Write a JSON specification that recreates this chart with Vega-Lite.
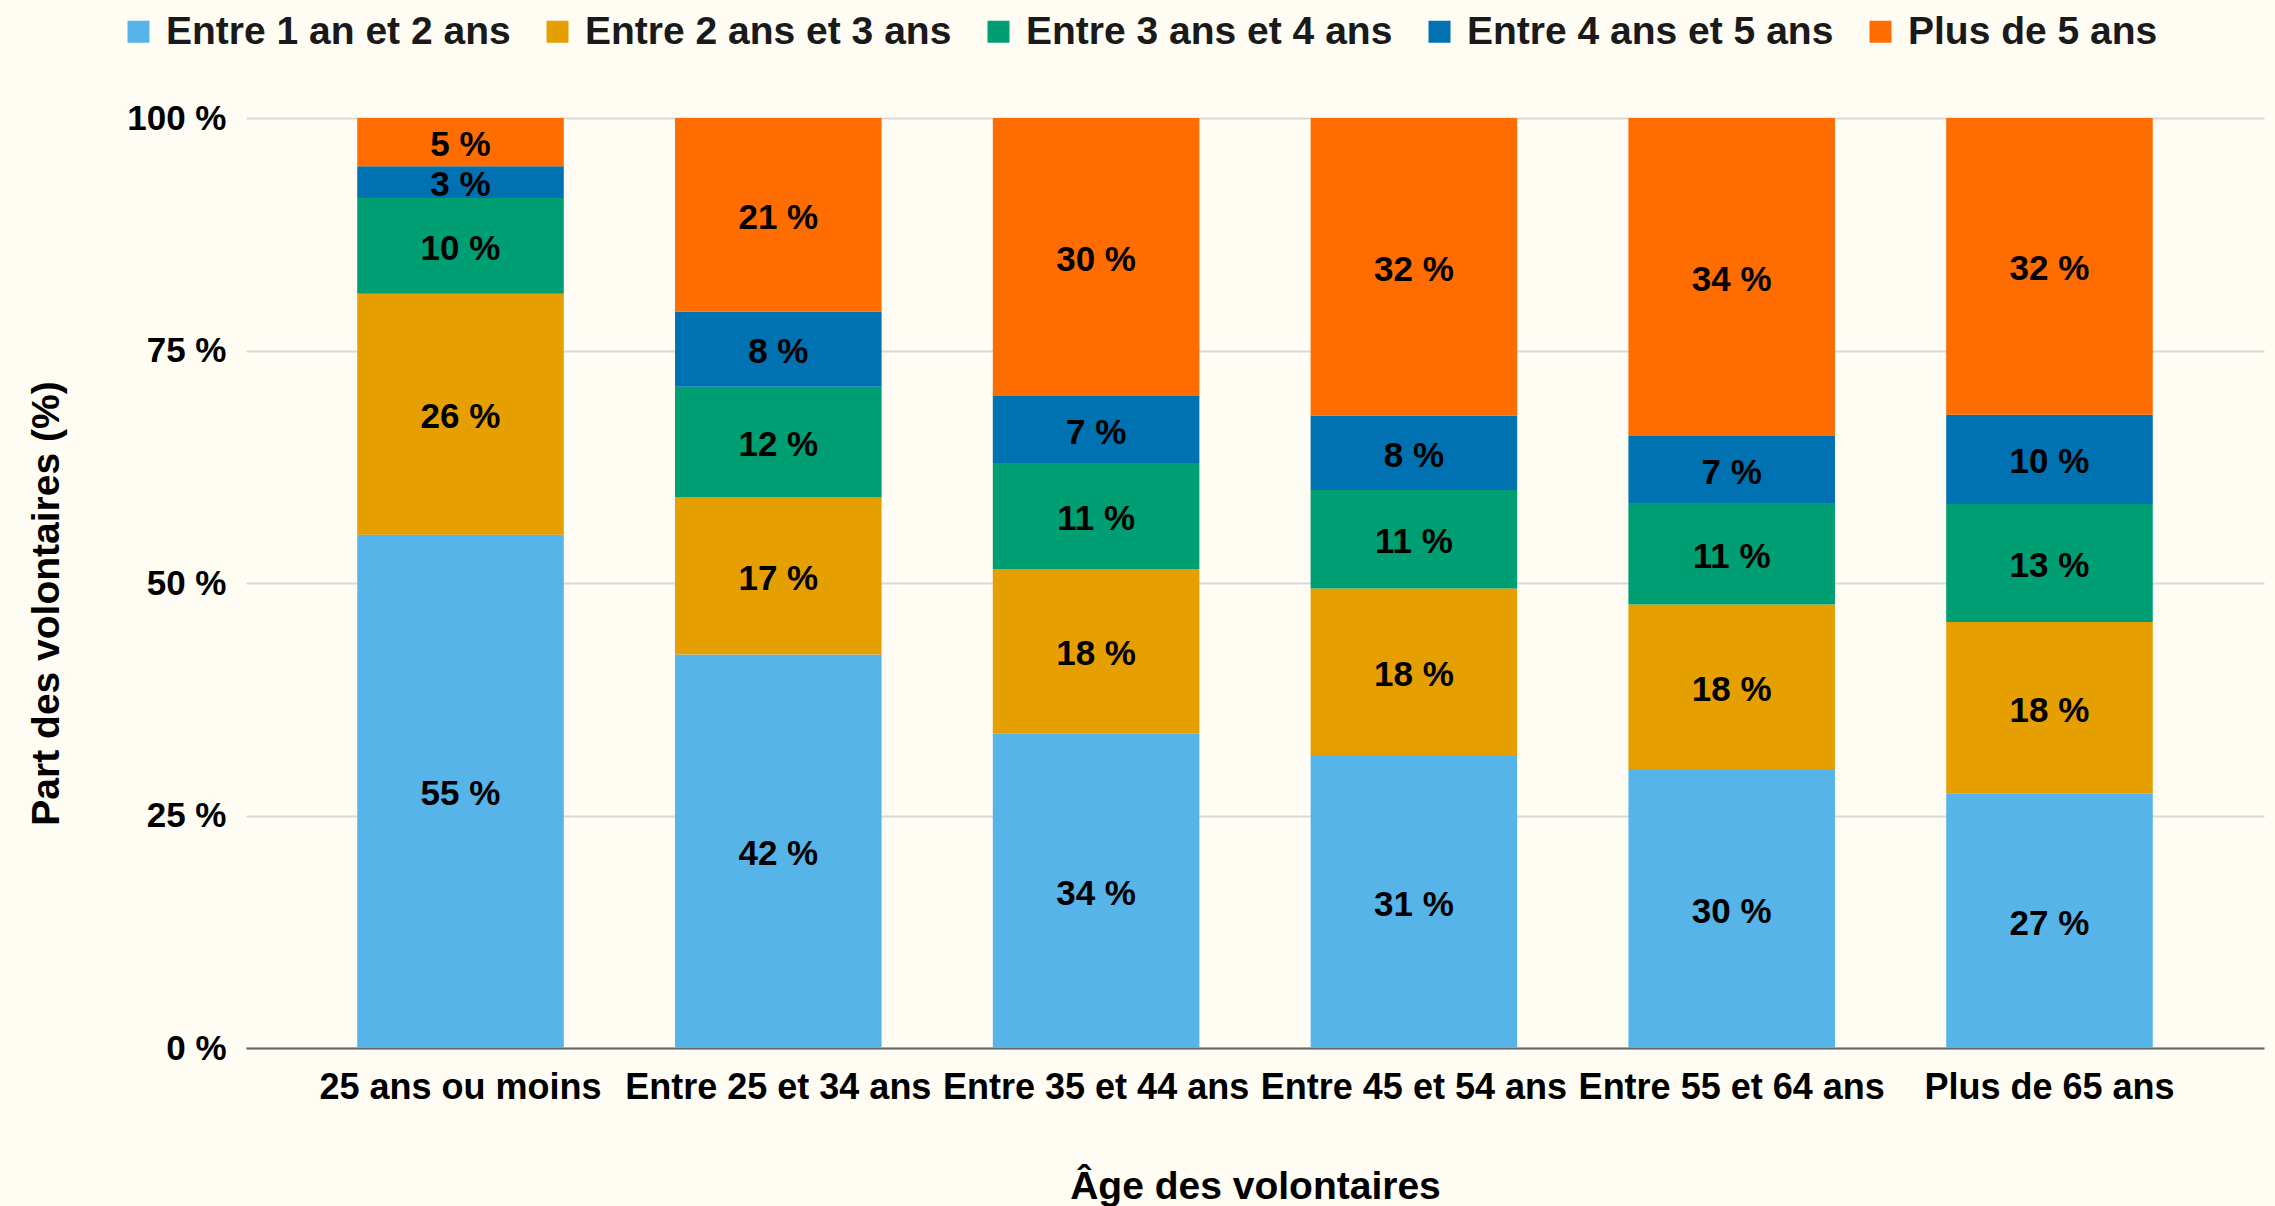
{
  "$schema": "https://vega.github.io/schema/vega-lite/v6.json",
  "width": 2018,
  "height": 930,
  "autosize": {"type": "none"},
  "padding": {"left": 246, "top": 118, "right": 11, "bottom": 158},
  "background": "#fffcf4",
  "data": {
    "values": [
      {"age": "25 ans ou moins", "duree": "Entre 1 an et 2 ans", "value": 55.2},
      {"age": "25 ans ou moins", "duree": "Entre 2 ans et 3 ans", "value": 25.9},
      {"age": "25 ans ou moins", "duree": "Entre 3 ans et 4 ans", "value": 10.3},
      {"age": "25 ans ou moins", "duree": "Entre 4 ans et 5 ans", "value": 3.4},
      {"age": "25 ans ou moins", "duree": "Plus de 5 ans", "value": 5.2},
      {"age": "Entre 25 et 34 ans", "duree": "Entre 1 an et 2 ans", "value": 42.3},
      {"age": "Entre 25 et 34 ans", "duree": "Entre 2 ans et 3 ans", "value": 16.9},
      {"age": "Entre 25 et 34 ans", "duree": "Entre 3 ans et 4 ans", "value": 11.9},
      {"age": "Entre 25 et 34 ans", "duree": "Entre 4 ans et 5 ans", "value": 8.1},
      {"age": "Entre 25 et 34 ans", "duree": "Plus de 5 ans", "value": 20.8},
      {"age": "Entre 35 et 44 ans", "duree": "Entre 1 an et 2 ans", "value": 33.8},
      {"age": "Entre 35 et 44 ans", "duree": "Entre 2 ans et 3 ans", "value": 17.7},
      {"age": "Entre 35 et 44 ans", "duree": "Entre 3 ans et 4 ans", "value": 11.4},
      {"age": "Entre 35 et 44 ans", "duree": "Entre 4 ans et 5 ans", "value": 7.2},
      {"age": "Entre 35 et 44 ans", "duree": "Plus de 5 ans", "value": 29.9},
      {"age": "Entre 45 et 54 ans", "duree": "Entre 1 an et 2 ans", "value": 31.4},
      {"age": "Entre 45 et 54 ans", "duree": "Entre 2 ans et 3 ans", "value": 18.0},
      {"age": "Entre 45 et 54 ans", "duree": "Entre 3 ans et 4 ans", "value": 10.6},
      {"age": "Entre 45 et 54 ans", "duree": "Entre 4 ans et 5 ans", "value": 8.0},
      {"age": "Entre 45 et 54 ans", "duree": "Plus de 5 ans", "value": 32.0},
      {"age": "Entre 55 et 64 ans", "duree": "Entre 1 an et 2 ans", "value": 30.0},
      {"age": "Entre 55 et 64 ans", "duree": "Entre 2 ans et 3 ans", "value": 17.7},
      {"age": "Entre 55 et 64 ans", "duree": "Entre 3 ans et 4 ans", "value": 10.9},
      {"age": "Entre 55 et 64 ans", "duree": "Entre 4 ans et 5 ans", "value": 7.2},
      {"age": "Entre 55 et 64 ans", "duree": "Plus de 5 ans", "value": 34.2},
      {"age": "Plus de 65 ans", "duree": "Entre 1 an et 2 ans", "value": 27.4},
      {"age": "Plus de 65 ans", "duree": "Entre 2 ans et 3 ans", "value": 18.4},
      {"age": "Plus de 65 ans", "duree": "Entre 3 ans et 4 ans", "value": 12.7},
      {"age": "Plus de 65 ans", "duree": "Entre 4 ans et 5 ans", "value": 9.6},
      {"age": "Plus de 65 ans", "duree": "Plus de 5 ans", "value": 31.9}
    ]
  },
  "encoding": {
    "x": {
      "field": "age",
      "type": "nominal",
      "sort": ["25 ans ou moins", "Entre 25 et 34 ans", "Entre 35 et 44 ans", "Entre 45 et 54 ans", "Entre 55 et 64 ans", "Plus de 65 ans"],
      "scale": {"paddingInner": 0.35, "paddingOuter": 0.35},
      "title": "Âge des volontaires",
      "axis": {
        "labelAngle": 0,
        "labelFontSize": 36,
        "labelFontWeight": "bold",
        "labelColor": "#000000",
        "labelPadding": 22,
        "labelLimit": 0,
        "ticks": false,
        "domain": true,
        "domainColor": "#666666",
        "domainWidth": 2,
        "titleFontSize": 39,
        "titleFontWeight": "bold",
        "titleColor": "#000000",
        "titlePadding": 62
      }
    }
  },
  "layer": [
    {
      "mark": {"type": "bar"},
      "encoding": {
        "y": {
          "field": "value",
          "type": "quantitative",
          "stack": "zero",
          "scale": {"domain": [0, 100]},
          "title": "Part des volontaires (%)",
          "axis": {
            "values": [0, 25, 50, 75, 100],
            "format": "$.0f",
            "labelFontSize": 35,
            "labelFontWeight": "bold",
            "labelColor": "#000000",
            "labelPadding": 20,
            "ticks": false,
            "domain": false,
            "grid": true,
            "gridColor": "#d9d9d9",
            "gridWidth": 2,
            "titleFontSize": 39,
            "titleFontWeight": "bold",
            "titleColor": "#000000",
            "titlePadding": 60,
            "titleY": 485
          }
        },
        "order": {"field": "duree", "type": "nominal", "sort": "ascending"},
        "color": {
          "field": "duree",
          "type": "nominal",
          "scale": {
            "domain": ["Entre 1 an et 2 ans", "Entre 2 ans et 3 ans", "Entre 3 ans et 4 ans", "Entre 4 ans et 5 ans", "Plus de 5 ans"],
            "range": ["#56B4E9", "#E69F00", "#009E73", "#0072B2", "#FF6D00"]
          },
          "legend": {
            "title": null,
            "orient": "none",
            "direction": "horizontal",
            "legendX": -127,
            "legendY": -106,
            "symbolType": "square",
            "symbolSize": 484,
            "symbolStrokeWidth": 0,
            "symbolOpacity": 1,
            "labelFontSize": 39,
            "labelFontWeight": "bold",
            "labelColor": "#1a1a1a",
            "labelLimit": 0,
            "labelOffset": 8,
            "columnPadding": 27
          }
        }
      }
    },
    {
      "transform": [
        {"stack": "value", "groupby": ["age"], "sort": [{"field": "duree", "order": "ascending"}], "as": ["v0", "v1"]},
        {"fold": ["v0", "v1"], "as": ["bord", "pos"]},
        {"aggregate": [{"op": "mean", "field": "pos", "as": "milieu"}, {"op": "min", "field": "value", "as": "part"}], "groupby": ["age", "duree"]}
      ],
      "mark": {"type": "text", "fontSize": 35, "fontWeight": "bold", "color": "#000000", "baseline": "middle", "align": "center", "dy": 3},
      "encoding": {
        "y": {
          "field": "milieu",
          "type": "quantitative",
          "title": "Part des volontaires (%)",
          "axis": {
            "values": [0, 25, 50, 75, 100],
            "format": "$.0f",
            "labelFontSize": 35,
            "labelFontWeight": "bold",
            "labelColor": "#000000",
            "labelPadding": 20,
            "ticks": false,
            "domain": false,
            "grid": true,
            "gridColor": "#d9d9d9",
            "gridWidth": 2,
            "titleFontSize": 39,
            "titleFontWeight": "bold",
            "titleColor": "#000000",
            "titlePadding": 60,
            "titleY": 485
          }
        },
        "text": {"field": "part", "type": "quantitative", "format": "$.0f"}
      }
    }
  ],
  "config": {
    "font": "Liberation Sans",
    "view": {"stroke": null},
    "locale": {
      "number": {
        "decimal": ",",
        "thousands": " ",
        "grouping": [3],
        "currency": ["", " %"]
      }
    }
  }
}
